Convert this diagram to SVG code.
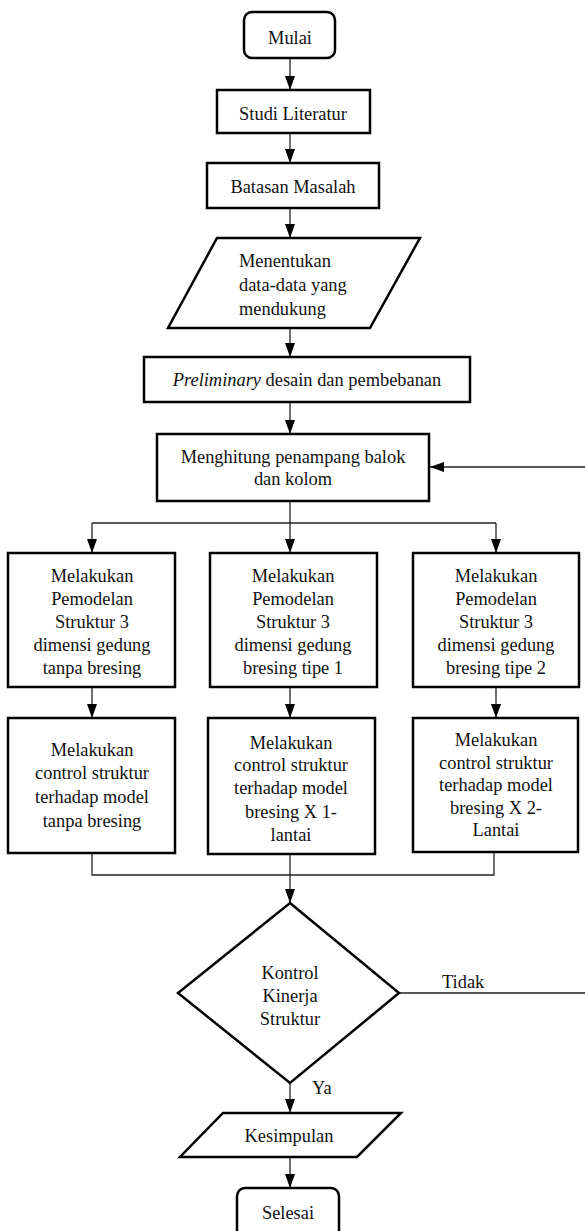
<svg xmlns="http://www.w3.org/2000/svg" width="585" height="1231" viewBox="0 0 585 1231">
<style>
.n{fill:#fff;stroke:#000;stroke-width:2.5}
.c{fill:none;stroke:#222;stroke-width:1.3}
text{font-family:"Liberation Serif","Times New Roman",serif;font-size:18.4px;fill:#111}
.m{text-anchor:middle}
</style>
<defs>
<marker id="ah" viewBox="0 0 14 10" refX="14" refY="5" markerWidth="14" markerHeight="10" markerUnits="userSpaceOnUse" orient="auto">
<path d="M0,0 L14,5 L0,10 Z" fill="#000"/>
</marker>
</defs>
<rect width="585" height="1231" fill="#fff"/>
<g id="connectors">
<line class="c" x1="290" y1="58" x2="290" y2="90" marker-end="url(#ah)"/>
<line class="c" x1="290" y1="133" x2="290" y2="163" marker-end="url(#ah)"/>
<line class="c" x1="290" y1="208" x2="290" y2="238" marker-end="url(#ah)"/>
<line class="c" x1="290" y1="328" x2="290" y2="357" marker-end="url(#ah)"/>
<line class="c" x1="290" y1="402" x2="290" y2="434" marker-end="url(#ah)"/>
<path class="c" d="M290,501 V523"/>
<path class="c" d="M92,523 H496"/>
<line class="c" x1="92" y1="523" x2="92" y2="553" marker-end="url(#ah)"/>
<line class="c" x1="290" y1="523" x2="290" y2="553" marker-end="url(#ah)"/>
<line class="c" x1="496" y1="523" x2="496" y2="553" marker-end="url(#ah)"/>
<line class="c" x1="92" y1="687" x2="92" y2="718" marker-end="url(#ah)"/>
<line class="c" x1="290" y1="687" x2="290" y2="718" marker-end="url(#ah)"/>
<line class="c" x1="496" y1="687" x2="496" y2="718" marker-end="url(#ah)"/>
<path class="c" d="M92,853 V875 H494 V853"/>
<line class="c" x1="290" y1="853" x2="290" y2="903" marker-end="url(#ah)"/>
<path class="c" d="M399,993 H587 V467 H430" marker-end="url(#ah)"/>
<line class="c" x1="290" y1="1083" x2="290" y2="1113" marker-end="url(#ah)"/>
<line class="c" x1="290" y1="1157" x2="290" y2="1188" marker-end="url(#ah)"/>
<text x="442" y="988">Tidak</text>
<text x="312" y="1094">Ya</text>
</g>
<g id="mulai"><rect class="n" x="244" y="12" width="91" height="46" rx="8"/><text class="m" x="290" y="44">Mulai</text></g>
<g id="studi"><rect class="n" x="217" y="90" width="153" height="43"/><text class="m" x="293" y="120">Studi Literatur</text></g>
<g id="batasan"><rect class="n" x="207" y="163" width="172" height="45"/><text class="m" x="293" y="193">Batasan Masalah</text></g>
<g id="menentukan"><path class="n" d="M217,238 H420 L370,328 H168 Z"/><text x="239" y="267">Menentukan</text><text x="239" y="291">data-data yang</text><text x="239" y="315">mendukung</text></g>
<g id="preliminary"><rect class="n" x="144" y="357" width="326" height="45"/><text class="m" x="307" y="386"><tspan font-style="italic">Preliminary</tspan> desain dan pembebanan</text></g>
<g id="menghitung"><rect class="n" x="157" y="434" width="272" height="67"/><text class="m" x="293" y="463">Menghitung penampang balok</text><text class="m" x="293" y="485">dan kolom</text></g>
<g id="model1"><rect class="n" x="8" y="553" width="167" height="134"/><text class="m" x="92"><tspan x="92" y="582">Melakukan</tspan><tspan x="92" y="605">Pemodelan</tspan><tspan x="92" y="628">Struktur 3</tspan><tspan x="92" y="651">dimensi gedung</tspan><tspan x="92" y="674">tanpa bresing</tspan></text></g>
<g id="model2"><rect class="n" x="210" y="553" width="167" height="134"/><text class="m" x="293"><tspan x="293" y="582">Melakukan</tspan><tspan x="293" y="605">Pemodelan</tspan><tspan x="293" y="628">Struktur 3</tspan><tspan x="293" y="651">dimensi gedung</tspan><tspan x="293" y="674">bresing tipe 1</tspan></text></g>
<g id="model3"><rect class="n" x="413" y="553" width="166" height="134"/><text class="m" x="496"><tspan x="496" y="582">Melakukan</tspan><tspan x="496" y="605">Pemodelan</tspan><tspan x="496" y="628">Struktur 3</tspan><tspan x="496" y="651">dimensi gedung</tspan><tspan x="496" y="674">bresing tipe 2</tspan></text></g>
<g id="kontrol1"><rect class="n" x="8" y="718" width="167" height="135"/><text class="m" x="92"><tspan x="92" y="756">Melakukan</tspan><tspan x="92" y="779">control struktur</tspan><tspan x="92" y="803">terhadap model</tspan><tspan x="92" y="827">tanpa bresing</tspan></text></g>
<g id="kontrol2"><rect class="n" x="208" y="718" width="167" height="136"/><text class="m" x="291"><tspan x="291" y="749">Melakukan</tspan><tspan x="291" y="771">control struktur</tspan><tspan x="291" y="794">terhadap model</tspan><tspan x="291" y="818">bresing X 1-</tspan><tspan x="291" y="841">lantai</tspan></text></g>
<g id="kontrol3"><rect class="n" x="413" y="718" width="165" height="134"/><text class="m" x="496"><tspan x="496" y="746">Melakukan</tspan><tspan x="496" y="769">control struktur</tspan><tspan x="496" y="791">terhadap model</tspan><tspan x="496" y="814">bresing X 2-</tspan><tspan x="496" y="836">Lantai</tspan></text></g>
<g id="keputusan"><path class="n" d="M290,903 L399,993 L290,1083 L178,993 Z"/><text class="m" x="290"><tspan x="290" y="979">Kontrol</tspan><tspan x="290" y="1002">Kinerja</tspan><tspan x="290" y="1025">Struktur</tspan></text></g>
<g id="kesimpulan"><path class="n" d="M223,1113 H401 L357,1157 H180 Z"/><text class="m" x="289" y="1142">Kesimpulan</text></g>
<g id="selesai"><rect class="n" x="237" y="1188" width="102" height="50" rx="8"/><text class="m" x="288" y="1219">Selesai</text></g>
</svg>
